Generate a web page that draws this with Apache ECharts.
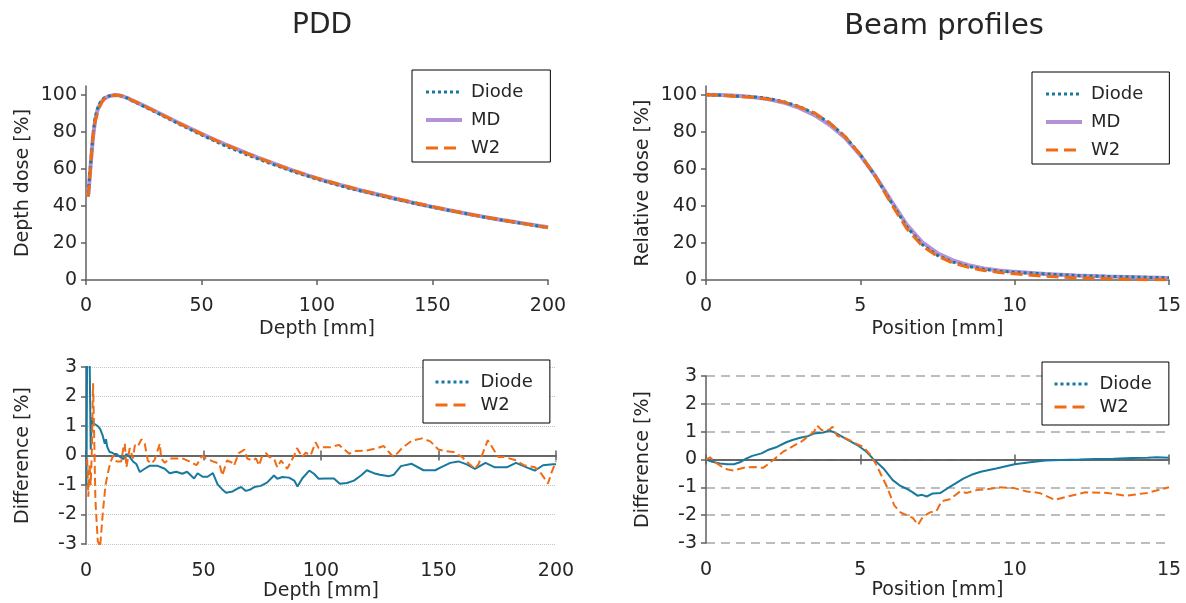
<!DOCTYPE html>
<html>
<head>
<meta charset="UTF-8">
<title>PDD and beam profiles</title>
<script src="https://cdn.jsdelivr.net/npm/echarts@6/dist/echarts.min.js"></script>
<style>
html,body{margin:0;padding:0;background:#fff;}
#charts{width:1186px;height:603px;}
</style>
</head>
<body>
<div id="charts"></div>
<script type="text/javascript">
// PDD, depth in mm
var depth = [1,2,3,4,5,6,7,8,10,12,14,16,18,20,25,30,35,40,45,50,55,60,65,70,75,80,85,90,95,100,
  105,110,115,120,125,130,135,140,145,150,155,160,165,170,175,180,185,190,195,200];
var pddMD = [46,62,77,87,92,95,97,98.3,99.5,100,100,99.4,98.5,97.2,94.4,91.3,88.2,85.1,82.1,79.1,76.3,73.6,71.0,68.4,66.0,63.6,61.3,59.1,57.0,55.0,
  53.2,51.5,49.8,48.2,46.7,45.2,43.7,42.3,40.9,39.6,38.3,37.1,35.9,34.7,33.6,32.5,31.5,30.5,29.5,28.5];
var pddDiode = [47,63,78,88,92.9,95.8,97.6,98.6,99.6,100.1,100,99.3,98.4,97.0,94.0,90.9,87.7,84.6,81.5,78.5,75.7,72.7,70.2,67.6,65.3,62.9,60.8,58.5,56.6,54.6,
  52.8,51.0,49.3,47.9,46.4,44.9,43.5,42.1,40.7,39.4,38.2,37.0,35.8,34.6,33.5,32.4,31.4,30.4,29.4,28.4];
var pddW2 = [45,61,78,86,90.5,94,96.5,98,99.4,100,100,99.5,98.6,97.2,94.4,91.2,88.1,85.0,82.0,79.1,76.2,73.5,71.0,68.3,65.9,63.6,61.2,59.2,57.1,55.1,
  53.3,51.6,49.9,48.3,46.8,45.3,43.8,42.5,41.1,39.7,38.4,37.1,35.8,34.7,33.6,32.5,31.4,30.4,29.3,28.4];

// PDD difference [%]
var depthDiode = [0.2,0.5,1,1.5,2,2.5,3,4,5,6,7,8,8.5,9,10,11,12,13,14.5,16,17.2,18.6,20,21.5,22.9,25,27,30.5,33.5,35.6,
  38.4,41,43,46,47.5,49.6,51.7,54,56,58,59.6,62.4,65,66,68,70,71.6,74.4,77,80,81.4,83.6,86.4,88.6,90,92,95,97,99,102,
  105.5,108,111,114,117,119.5,122.5,125,129,131,134,138.6,143.6,148.6,151,155,158.5,162,165.5,170,174,179,183,188,191,194.5,198.7,200];
var diffDiode = [-1.0,3.8,3.2,3.6,0.2,1.3,1.1,1.05,1.0,0.9,0.7,0.4,0.55,0.3,0.12,0.1,0.05,0.05,-0.05,-0.12,0.05,-0.05,-0.2,-0.3,-0.56,-0.45,-0.35,-0.35,-0.45,-0.6,
  -0.55,-0.62,-0.55,-0.78,-0.6,-0.72,-0.72,-0.6,-0.98,-1.15,-1.26,-1.22,-1.1,-1.07,-1.2,-1.15,-1.07,-1.03,-0.92,-0.68,-0.79,-0.73,-0.75,-0.85,-1.05,-0.78,-0.51,-0.62,-0.79,-0.78,
  -0.78,-0.96,-0.93,-0.85,-0.68,-0.5,-0.6,-0.65,-0.7,-0.65,-0.36,-0.28,-0.5,-0.5,-0.4,-0.25,-0.2,-0.3,-0.45,-0.25,-0.4,-0.4,-0.25,-0.42,-0.51,-0.33,-0.3,-0.3];
var depthW2 = [0.5,1,1.5,2,2.5,3,3.5,4,5,6,7.2,8.3,9.3,10.3,11.6,13,15,16,16.5,17.2,18.6,20,20.8,22,23.6,25,26.3,27.8,29.2,31.4,
  32,33.5,35.6,38.4,41,44,47,49.6,51,54,56.8,58,60,62.4,63,65,67.4,68.6,70.8,72.3,73.7,75,76.6,78,80,81.4,83,85.6,88.6,89.8,
  92,93.5,95.6,97.7,99,101,104,107.6,110,112,114.7,119.5,124,126.7,129.6,131,134.5,138.6,143,146.5,150,153,156.4,160,163,165.5,167,171,175.4,178,
  182.5,186.7,191,193.6,196.6,198,200];
var diffW2 = [-0.1,-1.4,-0.3,-1.0,0.2,2.45,0.6,-1.5,-2.9,-3.1,-1.9,-1.0,-0.6,-0.25,0.0,-0.2,-0.2,0.3,0.4,-0.4,0.25,-0.1,0.35,0.3,0.55,0.4,-0.17,-0.28,-0.15,0.4,
  -0.1,-0.25,-0.1,-0.1,-0.1,-0.2,-0.33,0.0,-0.1,-0.2,-0.28,-0.68,-0.17,-0.25,-0.34,0.08,0.2,-0.1,-0.17,-0.1,-0.34,0.0,0.08,-0.05,-0.1,-0.4,-0.17,-0.45,0.0,0.25,
  -0.05,0.1,0.0,0.45,0.25,0.28,0.28,0.36,0.2,0.06,0.15,0.17,0.25,0.32,0.05,-0.05,0.25,0.5,0.58,0.48,0.2,0.15,0.12,-0.05,-0.28,-0.45,-0.3,0.52,-0.05,-0.05,
  -0.15,-0.34,-0.4,-0.6,-0.95,-0.6,-0.2];

// Beam profiles, position in mm
var pos = [0,0.5,1,1.5,2,2.5,3,3.5,4,4.5,5,5.5,6,6.5,7,7.5,8,8.5,9,9.5,10,11,12,13,14,15];
var profMD = [100.3,100.1,99.7,99.1,98.0,96.1,93.3,89.4,84.0,77.0,67.5,56.0,42.8,30.0,20.5,14.5,10.6,8.0,6.2,5.1,4.4,3.3,2.4,1.9,1.5,1.1];
var profDiode = [100.3,100.0,99.5,99.2,98.3,96.6,94.1,90.3,85.1,77.8,67.9,55.8,42.1,28.9,19.2,13.3,9.7,7.35,5.8,4.8,4.2,3.25,2.4,1.95,1.55,1.15];
var profW2 = [100.3,99.9,99.3,98.85,97.9,96.4,93.85,90.6,85.15,77.8,67.95,55.8,41.2,27.9,18.4,12.9,9.2,6.85,5.15,4.1,3.4,2.0,1.2,0.7,0.25,0.1];

// Beam profile difference [%]
var posDiode = [0,0.2,0.45,0.7,0.9,1.1,1.3,1.5,1.8,2.0,2.3,2.6,2.8,3.05,3.3,3.5,3.8,4.0,4.1,4.25,4.55,4.9,5.2,5.4,5.75,6.05,6.3,6.5,6.7,6.85,
  7.0,7.15,7.35,7.6,7.9,8.1,8.35,8.6,8.9,9.4,10.0,10.5,11.0,11.5,12.1,12.6,13.2,13.8,14.3,14.6,15];
var pdiffDiode = [0,-0.08,-0.14,-0.17,-0.17,-0.1,0.03,0.13,0.22,0.34,0.45,0.62,0.7,0.78,0.84,0.93,0.97,1.04,1.0,0.92,0.73,0.52,0.28,0.04,-0.32,-0.74,-0.95,-1.05,-1.18,-1.3,
  -1.27,-1.33,-1.22,-1.2,-0.98,-0.85,-0.68,-0.55,-0.44,-0.32,-0.17,-0.1,-0.04,-0.02,0.0,0.02,0.03,0.05,0.06,0.08,0.06];
var posW2 = [0,0.13,0.3,0.5,0.7,0.9,1.1,1.3,1.55,1.85,2.0,2.2,2.5,2.85,3.1,3.3,3.5,3.6,3.75,4.0,4.1,4.25,4.55,4.9,5.1,5.3,5.5,5.85,6.1,6.3,
  6.5,6.7,6.87,7.03,7.26,7.47,7.63,7.9,8.23,8.45,8.77,9.1,9.5,9.95,10.4,10.8,11.3,11.7,12.3,13.0,13.6,14.3,15];
var pdiffW2 = [0,0.08,-0.1,-0.25,-0.36,-0.4,-0.33,-0.28,-0.27,-0.3,-0.18,0.0,0.28,0.5,0.65,0.82,1.0,1.22,1.05,1.08,1.18,0.85,0.75,0.55,0.45,0.2,-0.15,-0.95,-1.65,-1.9,
  -2.0,-2.1,-2.35,-2.05,-1.9,-1.85,-1.5,-1.43,-1.15,-1.2,-1.1,-1.07,-1.0,-1.02,-1.15,-1.2,-1.45,-1.33,-1.18,-1.2,-1.3,-1.2,-1.0];

var doseTicks = [0,20,40,60,80,100];

function zip(xs, ys){
	var out=[];
	for(var i=0;i<xs.length;i++){ out.push([xs[i],ys[i]]); }
	return out;
}

var FONT='DejaVu Sans';
var TEAL='#17799f', PURPLE='#b591d6', ORANGE='#f06c14', AXIS='#606060', INK='#262626';

function xTop(grid, max, name){
	return {gridIndex:grid,type:'value',min:0,max:max,interval:max>20?50:5,
		name:name,nameLocation:'middle',nameGap:40,nameTextStyle:{fontFamily:FONT,fontSize:19,color:INK},
		axisLine:{onZero:false,lineStyle:{color:AXIS,width:1.5}},
		axisTick:{show:true,inside:false,length:5,lineStyle:{color:AXIS,width:1.5}},
		axisLabel:{fontFamily:FONT,fontSize:19,color:INK,margin:17},
		splitLine:{show:false}};
}
function yTop(grid, name){
	return {gridIndex:grid,type:'value',min:0,max:105,
		name:name,nameLocation:'middle',nameGap:53,nameTextStyle:{fontFamily:FONT,fontSize:19,color:INK},
		axisLine:{show:true,lineStyle:{color:AXIS,width:1.5}},
		axisTick:{show:true,length:5,customValues:doseTicks,lineStyle:{color:AXIS,width:1.5}},
		axisLabel:{fontFamily:FONT,fontSize:19,color:INK,margin:9,customValues:doseTicks},
		splitLine:{show:false}};
}
function xLabels(grid, max, name){
	return {gridIndex:grid,type:'value',min:0,max:max,interval:max>20?50:5,position:'bottom',
		name:name,nameLocation:'middle',nameGap:38,nameTextStyle:{fontFamily:FONT,fontSize:19,color:INK},
		axisLine:{show:false,onZero:false},axisTick:{show:false},
		axisLabel:{fontFamily:FONT,fontSize:19,color:INK,margin:18},
		splitLine:{show:false}};
}
function xZero(grid, max, pos, yIdx){
	return {gridIndex:grid,type:'value',min:0,max:max,interval:max>20?50:5,position:pos,
		axisLine:{show:true,onZero:true,onZeroAxisIndex:yIdx,lineStyle:{color:AXIS,width:1.5}},
		axisTick:{show:true,inside:false,length:5,lineStyle:{color:AXIS,width:1.5}},
		axisLabel:{show:false},splitLine:{show:false}};
}
function yDiff(grid, gridLine){
	return {gridIndex:grid,type:'value',min:-3,max:3,interval:1,
		name:'Difference [%]',nameLocation:'middle',nameGap:53,nameTextStyle:{fontFamily:FONT,fontSize:19,color:INK},
		axisLine:{show:true,onZero:false,lineStyle:{color:AXIS,width:1.5}},
		axisTick:{show:true,length:5,lineStyle:{color:AXIS,width:1.5}},
		axisLabel:{fontFamily:FONT,fontSize:19,color:INK,margin:9},
		splitLine:{show:true,lineStyle:gridLine}};
}
function yHidden(grid){
	return {gridIndex:grid,type:'value',min:-3,max:3,interval:1,show:false};
}
function line(name, x, y, data, color, type, width, z){
	return {name:name,type:'line',xAxisIndex:x,yAxisIndex:y,data:data,symbol:'none',
		lineStyle:{color:color,type:type,width:width},itemStyle:{color:color},z:z,silent:true,animation:false};
}
// legend keys drawn as in the original: dotted Diode, solid MD, dashed W2
var legendStyle = {
	Diode:{color:TEAL,type:'dotted',width:3},
	MD:{color:PURPLE,type:'solid',width:4},
	W2:{color:ORANGE,type:'dashed',width:3}
};
function legend(left, top, names, padding, gap){
	var data=names.map(function(n){ return {name:n,lineStyle:legendStyle[n]}; });
	return {left:left,top:top,orient:'vertical',data:data,selectedMode:false,
		itemWidth:36,itemHeight:16,itemGap:gap,padding:padding,
		itemStyle:{opacity:0},
		borderColor:'#000',borderWidth:1,backgroundColor:'#fff',
		textStyle:{fontFamily:FONT,fontSize:18,color:INK,padding:[0,0,0,4]}};
}

var mychart=echarts.init(document.getElementById('charts'));
var option={
	backgroundColor:'#fff',
	animation:false,
	title:[
		{text:'PDD',left:322,top:12,padding:0,textAlign:'center',textStyle:{fontFamily:FONT,fontSize:28,fontWeight:'normal',color:INK}},
		{text:'Beam profiles',left:944,top:12,padding:0,textAlign:'center',textStyle:{fontFamily:FONT,fontSize:29,fontWeight:'normal',color:INK}}
	],
	grid:[
		{left:86,top:86,width:462,height:194},
		{left:706,top:86,width:463,height:194},
		{left:86,top:367,width:470,height:177},
		{left:706,top:376,width:463,height:167},
		{left:86,top:367,width:470,height:177},
		{left:706,top:376,width:463,height:167}
	],
	xAxis:[
		xTop(0,200,'Depth [mm]'),
		xTop(1,15,'Position [mm]'),
		xLabels(2,200,'Depth [mm]'),
		xZero(2,200,'top',2),
		xLabels(3,15,'Position [mm]'),
		xZero(3,15,'top',3),
		xZero(4,200,'bottom',4),
		xZero(5,15,'bottom',5)
	],
	yAxis:[
		yTop(0,'Depth dose [%]'),
		yTop(1,'Relative dose [%]'),
		yDiff(2,{color:'#c4c4c4',type:'dotted',width:1}),
		yDiff(3,{color:'#bdbdbd',type:[9,6],width:2}),
		yHidden(4),
		yHidden(5)
	],
	legend:[
		legend(412,70,['Diode','MD','W2'],[13,27,5,12],10),
		legend(1032,72,['Diode','MD','W2'],[13,26,5,12],10),
		legend(423,360,['Diode','W2'],[13,17,9,11],5),
		legend(1042,362,['Diode','W2'],[13,17,9,11],5)
	],
	series:[
		line('MD',0,0,zip(depth,pddMD),PURPLE,'solid',4,2),
		line('Diode',0,0,zip(depth,pddDiode),TEAL,'dotted',3,3),
		line('W2',0,0,zip(depth,pddW2),ORANGE,'dashed',3,4),
		line('MD',1,1,zip(pos,profMD),PURPLE,'solid',4,2),
		line('Diode',1,1,zip(pos,profDiode),TEAL,'dotted',3,3),
		line('W2',1,1,zip(pos,profW2),ORANGE,'dashed',3,4),
		line('Diode',2,2,zip(depthDiode,diffDiode),TEAL,'solid',2,3),
		line('W2',2,2,zip(depthW2,diffW2),ORANGE,'dashed',2,4),
		line('Diode',4,3,zip(posDiode,pdiffDiode),TEAL,'solid',2,3),
		line('W2',4,3,zip(posW2,pdiffW2),ORANGE,'dashed',2,4)
	]
};
mychart.setOption(option);
</script>
</body>
</html>
